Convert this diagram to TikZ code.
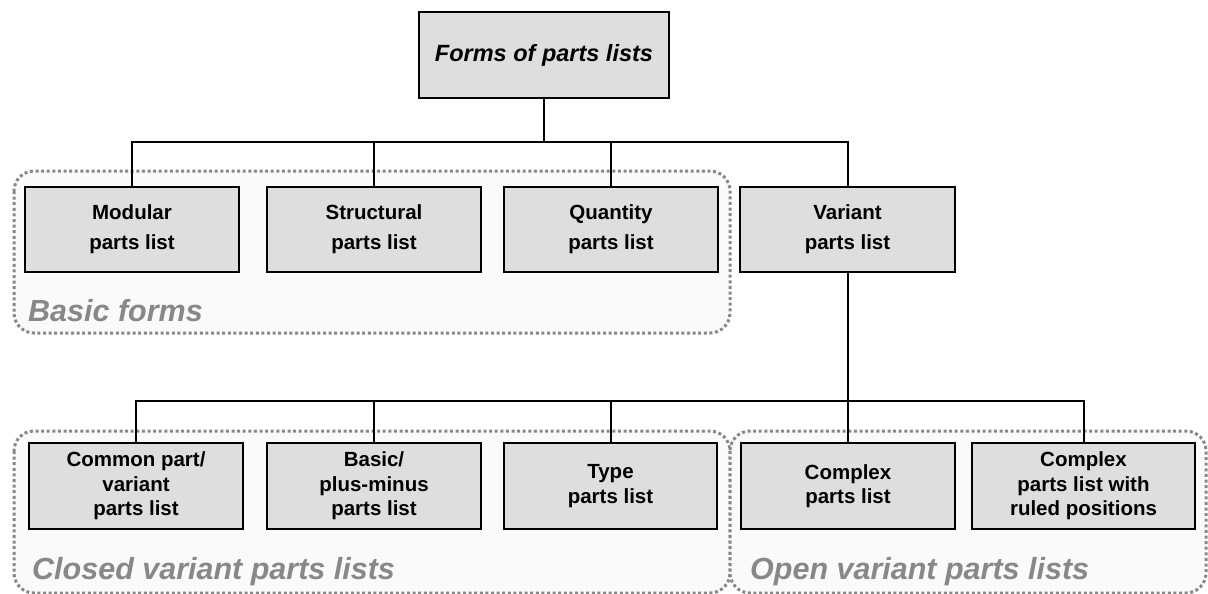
\documentclass[tikz,border=0pt]{standalone}
\usepackage{fontspec}
\setmainfont{Liberation Sans}
\definecolor{boxfill}{HTML}{DEDEDE}
\definecolor{groupfill}{HTML}{FAFAFA}
\definecolor{groupline}{HTML}{888888}
\definecolor{grouptext}{HTML}{888888}
\begin{document}
\begin{tikzpicture}[x=1pt,y=-1pt,
  partbox/.style={draw=black, line width=2pt, fill=boxfill, inner sep=0pt,
    align=center, minimum height=85pt},
  rowone/.style={partbox, font=\bfseries\fontsize{20.5}{30}\selectfont},
  rowtwo/.style={partbox, font=\bfseries\fontsize{20.5}{24.5}\selectfont},
  titlebox/.style={partbox, font=\bfseries\itshape\fontsize{23.5}{28}\selectfont},
  group/.style={draw=groupline, fill=groupfill, line width=3pt,
    dash pattern=on 3pt off 2.6pt, rounded corners=20pt},
  grouplabel/.style={anchor=base west, inner sep=0pt, text=grouptext,
    font=\bfseries\itshape\fontsize{30.5}{36}\selectfont},
  link/.style={draw=black, line width=2pt}]
\useasboundingbox (0,0) rectangle (1208,594);

% dotted groupings
\draw[group] (14,171) rectangle (730,333);
\draw[group] (14,431) rectangle (730,593);
\draw[group] (730,431) rectangle (1206,593);
\node[grouplabel] (gbasic) at (28,321) {Basic forms};
\node[grouplabel] (gclosed) at (32,579) {Closed variant parts lists};
\node[grouplabel] (gopen) at (750,579) {Open variant parts lists};

% boxes
\node[titlebox, minimum width=250pt, minimum height=86pt] (top) at (544,55) {Forms of parts lists};

\node[rowone, minimum width=214pt] (mod) at (132,229.5) {Modular\\parts list};
\node[rowone, minimum width=214pt] (str) at (374,229.5) {Structural\\parts list};
\node[rowone, minimum width=214pt] (qty) at (611,229.5) {Quantity\\parts list};
\node[rowone, minimum width=215pt] (var) at (847.5,229.5) {Variant\\parts list};

\node[rowtwo, minimum width=214pt, minimum height=86pt] (com) at (136,486) {Common part/\\variant\\parts list};
\node[rowtwo, minimum width=214pt, minimum height=86pt] (bpm) at (374,486) {Basic/\\plus-minus\\parts list};
\node[rowtwo, minimum width=213pt, minimum height=86pt] (typ) at (610.5,486) {Type\\parts list};
\node[rowtwo, minimum width=214pt, minimum height=86pt] (cpx) at (848,486) {Complex\\parts list};
\node[rowtwo, minimum width=223pt, minimum height=86pt] (rul) at (1083.5,486) {Complex\\parts list with\\ruled positions};

% connectors
\coordinate (j1) at (544,142);
\coordinate (j2) at (848,401);
\draw[link] (top.south) -- (j1) -| (mod.north);
\draw[link] (j1) -| (str.north);
\draw[link] (j1) -| (qty.north);
\draw[link] (j1) -| (var.north);
\draw[link] (var.south) -- (j2 -| var.south) -| (com.north);
\draw[link] (j2 -| var.south) -| (bpm.north);
\draw[link] (j2 -| var.south) -| (typ.north);
\draw[link] (j2 -| var.south) -| (cpx.north);
\draw[link] (j2 -| var.south) -| (rul.north);
\end{tikzpicture}
\end{document}
